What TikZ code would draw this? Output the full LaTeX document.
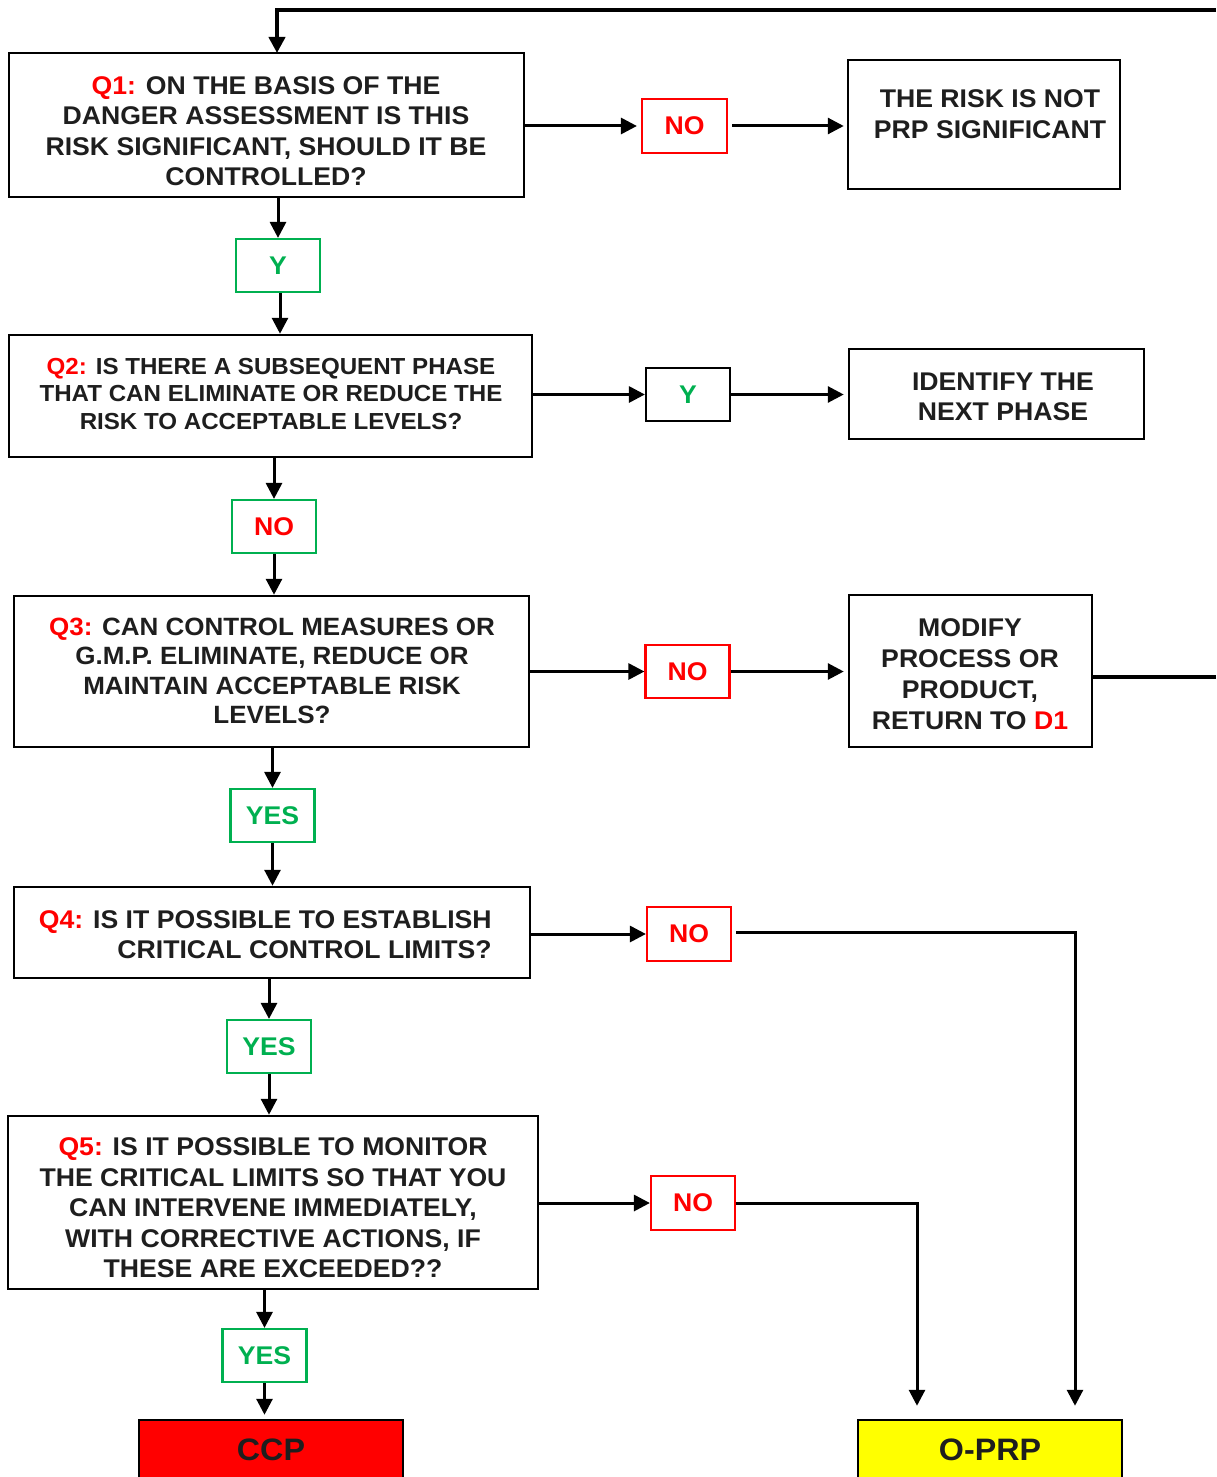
\documentclass[tikz,border=0pt]{standalone}
\usepackage{fontspec}
\setmainfont{Liberation Sans}[FakeStretch=1.04]
\usetikzlibrary{arrows.meta,calc}
\definecolor{okgreen}{HTML}{00B050}
\definecolor{nored}{HTML}{FF0000}
\definecolor{ink}{HTML}{1E1E1E}
\definecolor{oprpyellow}{HTML}{FFFF00}
\begin{document}
\begin{tikzpicture}[x=0.5pt,y=-0.5pt,
  sz/.style 2 args={minimum width=#1*0.5pt,minimum height=#2*0.5pt},
  box/.style={draw=black,line width=1.25pt,fill=white,inner sep=0pt},
  txt/.style={inner sep=0pt,align=center,text=ink,font=\bfseries\fontsize{12.8}{15.25}\selectfont},
  tag/.style={draw,line width=1.1pt,inner sep=0pt,sz={84}{53},font=\bfseries\fontsize{12.8}{15}\selectfont},
  notag/.style={tag,draw=nored,text=nored},
  yestag/.style={tag,draw=okgreen,text=okgreen},
  arr/.style={line width=1.5pt,-{Triangle[length=8pt,width=8pt]}},
  line/.style={line width=1.5pt}]
\useasboundingbox (0,0) rectangle (1216,1477);
\clip (0,0) rectangle (1216,1477);

% question boxes
\node[box,sz={515}{144}] (q1) at (266.5,125) {};
\node[txt] (q1t) at (266,131) {{\color{nored}Q1:} ON THE BASIS OF THE\\DANGER ASSESSMENT IS THIS\\RISK SIGNIFICANT, SHOULD IT BE\\CONTROLLED?};
\node[box,sz={523}{122}] (q2) at (270.5,396) {};
\node[txt,font=\bfseries\fontsize{11.6}{13.6}\selectfont] (q2t) at (271,394) {{\color{nored}Q2:} IS THERE A SUBSEQUENT PHASE\\THAT CAN ELIMINATE OR REDUCE THE\\RISK TO ACCEPTABLE LEVELS?};
\node[box,sz={515}{151}] (q3) at (271.5,671.5) {};
\node[txt,font=\bfseries\fontsize{12.5}{14.65}\selectfont] (q3t) at (272,671) {{\color{nored}Q3:} CAN CONTROL MEASURES OR\\G.M.P. ELIMINATE, REDUCE OR\\MAINTAIN ACCEPTABLE RISK\\LEVELS?};
\node[box,sz={516}{91}] (q4) at (272,932.5) {};
\node[txt,align=right,anchor=east] (q4t) at (492,934.5) {{\color{nored}Q4:} IS IT POSSIBLE TO ESTABLISH\\CRITICAL CONTROL LIMITS?};
\node[box,sz={530}{173}] (q5) at (273,1202.5) {};
\node[txt] (q5t) at (273,1208) {{\color{nored}Q5:} IS IT POSSIBLE TO MONITOR\\THE CRITICAL LIMITS SO THAT YOU\\CAN INTERVENE IMMEDIATELY,\\WITH CORRECTIVE ACTIONS, IF\\THESE ARE EXCEEDED??};

% outcome boxes on the right
\node[box,sz={272}{129}] (nsig) at (984,124.5) {};
\node[txt] (nsigt) at (990,114) {THE RISK IS NOT\\PRP SIGNIFICANT};
\node[box,sz={295}{90}] (ident) at (996.5,394) {};
\node[txt] (identt) at (1003,397) {IDENTIFY THE\\NEXT PHASE};
\node[box,sz={243}{152}] (mod) at (970.5,671) {};
\node[txt,font=\bfseries\fontsize{12.8}{15.5}\selectfont] (modt) at (970,674.5) {MODIFY\\PROCESS OR\\PRODUCT,\\RETURN TO {\color{nored}D1}};

% final boxes
\node[box,fill=nored,sz={264}{80}] (ccp) at (271,1460) {};
\node[txt,font=\bfseries\fontsize{15.5}{18}\selectfont] (ccpt) at (271,1450) {CCP};
\node[box,fill=oprpyellow,sz={264}{80}] (oprp) at (990,1460) {};
\node[txt,font=\bfseries\fontsize{15.5}{18}\selectfont] (oprpt) at (990,1450) {O-PRP};

% answer tags
\node[notag,sz={85}{54}] (no1) at (684.5,126) {NO};
\node[yestag] (y1) at (278,265.5) {Y};
\node[tag,draw=black,text=okgreen] (y2) at (688,394.5) {Y};
\node[tag,draw=okgreen,text=nored] (no2) at (274,526.5) {NO};
\node[notag] (no3) at (687.5,671.5) {NO};
\node[yestag] (yes3) at (272.5,815.5) {YES};
\node[notag,sz={84}{54}] (no4) at (689,934) {NO};
\node[yestag] (yes4) at (269,1046.5) {YES};
\node[notag,sz={84}{54}] (no5) at (693,1203) {NO};
\node[yestag] (yes5) at (264.5,1355.5) {YES};

% loop back to the first question
\coordinate (topR) at (1216,10);
\coordinate (q1in) at (277,53);
\draw[arr,line width=2pt] (topR) -| (q1in);
\coordinate (retR) at (1216,677);
\draw[line,line width=1.8pt] (retR -| mod.east) -- (retR);

% main vertical flow
\draw[arr] (q1.south -| y1) -- (y1.north);
\draw[arr] ($(y1.south)+(2,0)$) -- ($(y1.south |- q2.north)+(2,0)$);
\draw[arr] (q2.south -| no2) -- (no2.north);
\draw[arr] (no2.south) -- (no2.south |- q3.north);
\draw[arr] (q3.south -| yes3) -- (yes3.north);
\draw[arr] (yes3.south) -- (yes3.south |- q4.north);
\draw[arr] (q4.south -| yes4) -- (yes4.north);
\draw[arr] (yes4.south) -- (yes4.south |- q5.north);
\draw[arr] (q5.south -| yes5) -- (yes5.north);
\draw[arr,shorten >=2pt] (yes5.south) -- (yes5.south |- ccp.north);

% side branches
\draw[arr,shorten >=2pt] (q1.east |- no1) -- (no1.west);
\draw[arr,shorten <=2pt,shorten >=1.5pt] (no1.east) -- (nsig.west |- no1);
\draw[arr] (q2.east |- y2) -- (y2.west);
\draw[arr,shorten >=2pt] (y2.east) -- (ident.west |- y2);
\draw[arr] (q3.east |- no3) -- (no3.west);
\draw[arr,shorten >=2pt] (no3.east) -- (mod.west |- no3);
\draw[arr] (q4.east |- no4) -- (no4.west);
\draw[arr,shorten >=6.5pt] ($(no4.east)+(4,-2)$) -| ($(oprp.north)+(85,0)$);
\draw[arr] (q5.east |- no5) -- (no5.west);
\draw[arr,shorten >=6.5pt] (no5.east) -| ($(oprp.north)+(-73,0)$);
\end{tikzpicture}
\end{document}
